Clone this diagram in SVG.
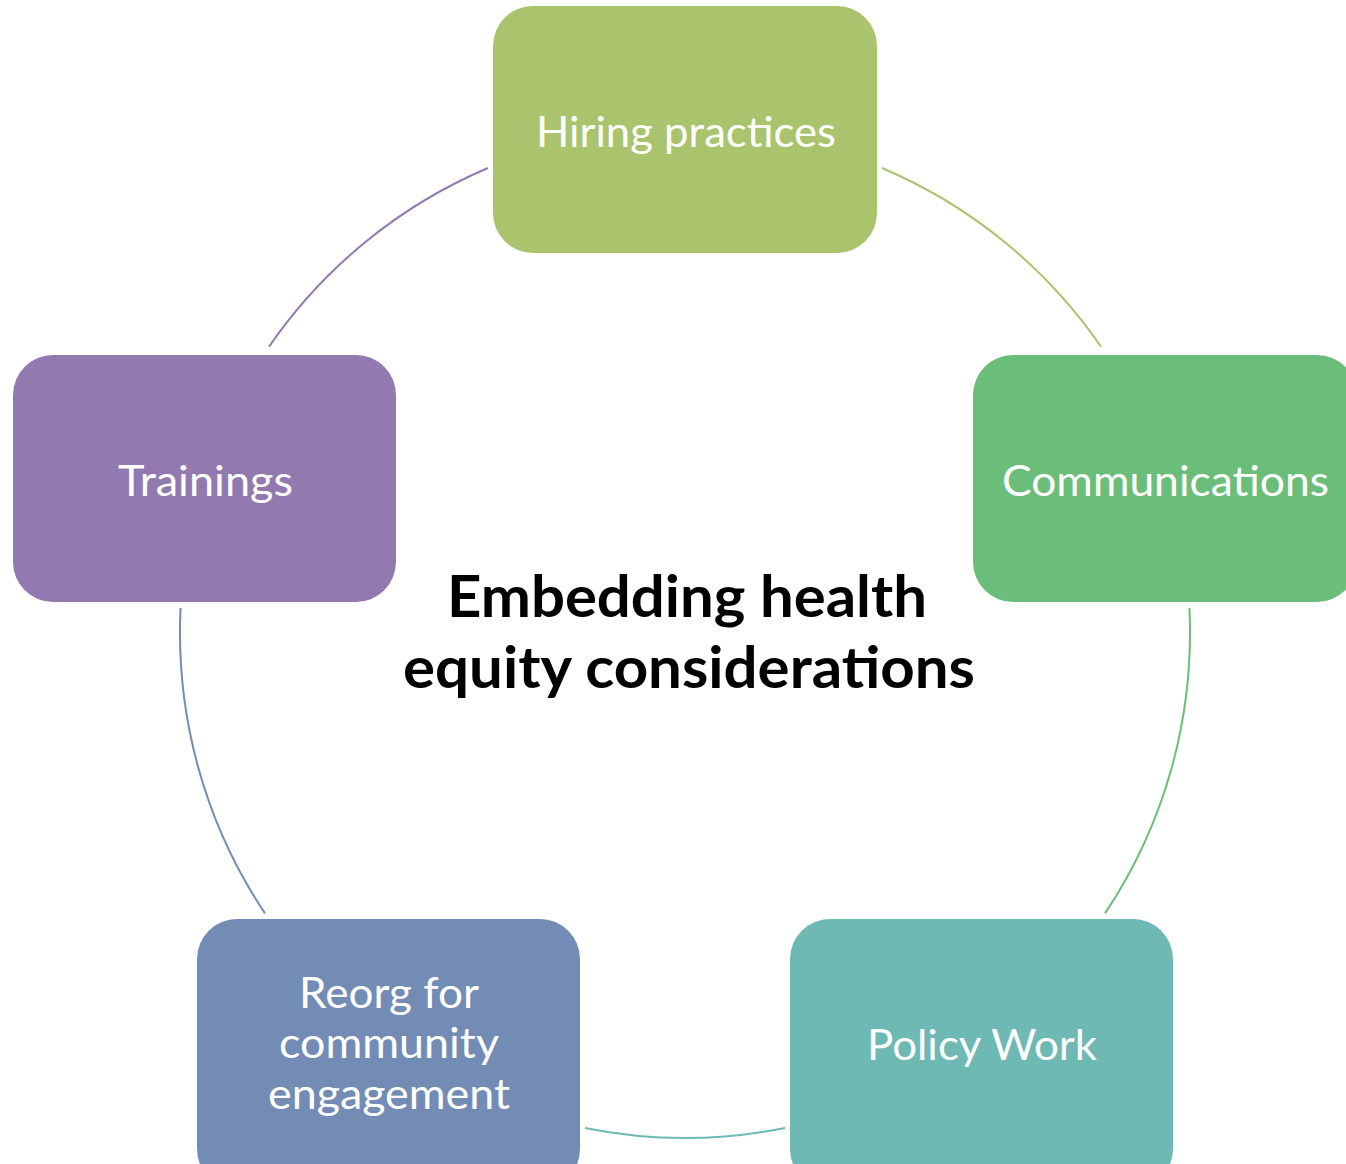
<svg xmlns="http://www.w3.org/2000/svg" width="1346" height="1164" viewBox="0 0 1346 1164">
<style>
.lbl{font-family:Lato,"Open Sans","Liberation Sans",sans-serif;font-size:42px;fill:#ffffff;text-anchor:middle}
.title{font-family:Lato,"Open Sans","Liberation Sans",sans-serif;font-size:57px;font-weight:bold;fill:#000000;text-anchor:middle}
.arc{fill:none;stroke-width:2}
</style>
<rect width="1346" height="1164" fill="#ffffff"/>
<g id="connectors">
<path class="arc" stroke="#A9C46C" d="M882,168 A505,505 0 0 1 1101,346.7"/>
<path class="arc" stroke="#6BBE78" d="M1189.4,608 A505,505 0 0 1 1105,913.4"/>
<path class="arc" stroke="#6EB9B4" d="M785,1128 A505,505 0 0 1 585,1128"/>
<path class="arc" stroke="#728CB5" d="M265,913.4 A505,505 0 0 1 180.6,608"/>
<path class="arc" stroke="#9279AE" d="M269,346.7 A505,505 0 0 1 488,168"/>
</g>
<g id="hiring">
<rect x="493" y="6" width="384" height="247" rx="40" fill="#AAC46D"/>
<text class="lbl" x="686" y="147" textLength="300" lengthAdjust="spacingAndGlyphs">Hiring practices</text>
</g>
<g id="communications">
<rect x="973" y="355" width="384" height="247" rx="40" fill="#6BBE79"/>
<text class="lbl" x="1165.5" y="496" textLength="327" lengthAdjust="spacingAndGlyphs">Communications</text>
</g>
<g id="policy">
<rect x="790" y="919" width="383" height="270" rx="40" fill="#6EB9B4"/>
<text class="lbl" x="982" y="1060" textLength="230" lengthAdjust="spacingAndGlyphs">Policy Work</text>
</g>
<g id="reorg">
<rect x="197" y="919" width="383" height="270" rx="40" fill="#728CB5"/>
<text class="lbl" x="389" y="1008" textLength="180" lengthAdjust="spacingAndGlyphs">Reorg for</text>
<text class="lbl" x="389" y="1058" textLength="220" lengthAdjust="spacingAndGlyphs">community</text>
<text class="lbl" x="389" y="1109" textLength="242" lengthAdjust="spacingAndGlyphs">engagement</text>
</g>
<g id="trainings">
<rect x="13" y="355" width="383" height="247" rx="40" fill="#9279AF"/>
<text class="lbl" x="205.5" y="496" textLength="175" lengthAdjust="spacingAndGlyphs">Trainings</text>
</g>
<g id="center">
<text class="title" x="687" y="617" textLength="480" lengthAdjust="spacingAndGlyphs">Embedding health</text>
<text class="title" x="689" y="688" textLength="572" lengthAdjust="spacingAndGlyphs">equity considerations</text>
</g>
</svg>
